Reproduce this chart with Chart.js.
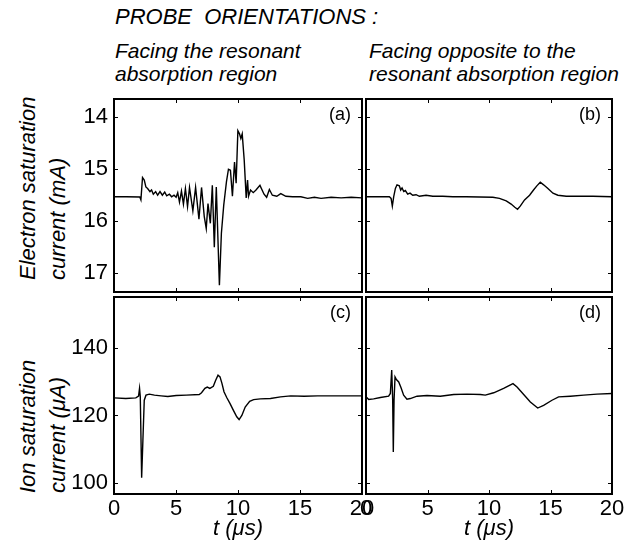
<!DOCTYPE html>
<html>
<head>
<meta charset="utf-8">
<script src="https://cdn.jsdelivr.net/npm/chart.js@4.4.0/dist/chart.umd.min.js"></script>
<style>
  body { margin: 0; background: #fff; }
  #wrap { position: relative; width: 631px; height: 542px; overflow: hidden;
          font-family: "Liberation Sans", Arial, sans-serif; color: #000; }
  canvas { position: absolute; }
  .txt { position: absolute; font-style: italic; white-space: pre; }
  .ylab { position: absolute; font-style: italic; white-space: pre; font-size: 22px;
          line-height: 30px; transform-origin: 0 0; transform: rotate(-90deg); }
</style>
</head>
<body>
<div id="wrap">
  <div class="txt" style="left:115px;top:6px;font-size:22px;line-height:22px;">PROBE  ORIENTATIONS :</div>
  <div class="txt" style="left:115px;top:39px;font-size:21px;line-height:23px;">Facing the resonant
absorption region</div>
  <div class="txt" style="left:369px;top:39px;font-size:21px;line-height:23px;">Facing opposite to the
resonant absorption region</div>
  <div class="ylab" style="left:13px;top:280px;">Electron saturation
current (mA)</div>
  <div class="ylab" style="left:13px;top:493px;">Ion saturation
current (μA)</div>
</div>
<script>
// time axis (µs)
const tTicks = [0, 5, 10, 15, 20];
const elecTicks = [14, 15, 16, 17];
const ionTicks = [100, 120, 140];

// (a) electron saturation current, facing the resonant absorption region
const tA = [0, 1.0, 2.08, 2.17, 2.30, 2.44, 2.57, 2.71, 2.90, 3.03, 3.17, 3.36, 3.52, 3.71, 3.90, 4.09,
  4.25, 4.47, 4.65, 4.84, 5.01, 5.14, 5.28, 5.44, 5.60, 5.76, 5.93, 6.09, 6.36, 6.58, 6.85, 7.06,
  7.28, 7.44, 7.58, 7.77, 7.93, 8.09, 8.25, 8.50, 8.66, 8.85, 9.07, 9.23, 9.39, 9.55, 9.72, 9.85,
  9.99, 10.12, 10.23, 10.34, 10.50, 10.66, 10.77, 10.85, 11.01, 11.23, 11.45, 11.77, 12.10, 12.31,
  12.53, 12.77, 13.13, 13.45, 13.86, 14.40, 15.07, 15.62, 16.16, 16.70, 17.51, 18.32, 19.13, 20.0];
const eA = [15.54, 15.54, 15.545, 15.60, 15.17, 15.22, 15.35, 15.38, 15.44, 15.41, 15.49, 15.44, 15.51, 15.44, 15.51, 15.45,
  15.52, 15.49, 15.54, 15.51, 15.55, 15.46, 15.64, 15.43, 15.68, 15.38, 15.73, 15.36, 15.81, 15.36, 15.97, 15.36,
  15.92, 16.15, 15.67, 16.05, 15.32, 16.51, 15.35, 17.24, 16.24, 15.70, 15.25, 15.01, 15.03, 15.53, 14.87, 15.28,
  14.27, 14.33, 14.42, 14.33, 14.83, 15.56, 15.22, 15.53, 15.41, 15.46, 15.41, 15.32, 15.49, 15.55,
  15.40, 15.51, 15.53, 15.48, 15.53, 15.54, 15.54, 15.57, 15.55, 15.57, 15.55, 15.56, 15.55, 15.56];

// (b) electron saturation current, facing opposite
const tB = [0, 1.90, 2.04, 2.14, 2.25, 2.39, 2.52, 2.71, 2.82, 2.93, 3.07, 3.20, 3.39, 3.58, 3.80, 4.07,
  4.34, 4.88, 5.43, 6.24, 7.06, 8.14, 9.23, 10.31, 10.85, 11.40, 11.80, 12.10, 12.32, 12.54, 12.89,
  13.30, 13.62, 13.89, 14.17, 14.44, 14.79, 15.20, 15.60, 16.28, 17.37, 18.45, 20.0];
const eB = [15.54, 15.54, 15.57, 15.72, 15.54, 15.38, 15.31, 15.33, 15.41, 15.37, 15.44, 15.42, 15.49, 15.47, 15.51, 15.50,
  15.53, 15.51, 15.53, 15.53, 15.54, 15.54, 15.545, 15.55, 15.57, 15.62, 15.68, 15.74, 15.78, 15.72, 15.60,
  15.51, 15.41, 15.33, 15.26, 15.31, 15.38, 15.47, 15.51, 15.53, 15.53, 15.53, 15.54];

// (c) ion saturation current, facing the resonant absorption region
const tC = [0, 0.95, 1.76, 1.98, 2.06, 2.12, 2.23, 2.33, 2.44, 2.58, 2.85, 3.26, 3.80, 4.34, 5.02, 5.83,
  6.87, 7.06, 7.33, 7.52, 7.73, 8.01, 8.20, 8.39, 8.55, 8.71, 8.87, 9.09, 9.36, 9.63, 9.90, 10.09,
  10.31, 10.58, 10.94, 11.26, 11.80, 12.62, 13.43, 14.25, 15.33, 16.42, 17.77, 18.86, 20.0];
const iC = [125.2, 125.0, 125.2, 125.7, 128.0, 125.5, 101.6, 112.6, 124.5, 126.0, 126.3, 126.0, 125.8, 125.6, 125.9, 126.0,
  126.2, 126.7, 128.0, 128.4, 128.0, 128.6, 130.4, 131.9, 131.4, 129.4, 127.0, 125.3, 123.5, 121.5, 119.6, 118.8,
  120.0, 122.5, 124.2, 124.7, 124.9, 125.0, 125.5, 125.8, 125.7, 125.8, 125.8, 125.8, 125.8];

// (d) ion saturation current, facing opposite
const tD = [0, 0.22, 0.62, 1.17, 1.84, 1.98, 2.09, 2.17, 2.22, 2.28, 2.36, 2.47, 2.66, 2.85, 3.06, 3.33,
  3.60, 4.15, 4.96, 6.04, 7.13, 8.21, 9.30, 9.70, 10.38, 11.19, 11.95, 12.28, 12.82, 13.36, 13.96,
  14.44, 15.12, 15.66, 16.61, 17.70, 18.78, 20.0];
const iD = [125.5, 124.7, 124.9, 125.3, 125.7, 126.5, 133.4, 124.5, 109.2, 124.5, 131.4, 130.6, 129.9, 128.2, 126.0, 124.8,
  125.0, 125.7, 125.9, 125.7, 126.2, 126.3, 126.2, 126.0, 126.7, 128.0, 129.4, 128.4, 126.2, 124.0, 122.2,
  123.0, 124.5, 125.5, 125.7, 126.0, 126.3, 126.5];

const FONT = '"Liberation Sans", Arial, sans-serif';
const Y_W = 50;     // width of the left tick-label column
const X_H = 48;     // height of the bottom tick-label + title band

// p.box = canvas rect on the page, p.L/R/T/B = frame edges on the page
function makePanel(ts, vs, p) {
  const [cx, cy, cw, ch] = p.box;
  const cv = document.createElement('canvas');
  cv.width = cw; cv.height = ch;
  cv.style.left = cx + 'px'; cv.style.top = cy + 'px';
  document.getElementById('wrap').appendChild(cv);

  const pts = ts.map((t, i) => ({ x: t, y: vs[i] }));

  // frame with inward ticks on all four sides, plus the panel letter
  const frame = {
    id: 'frame',
    afterDraw(chart) {
      const ctx = chart.ctx;
      const a = chart.chartArea;
      const x = chart.scales.x, y = chart.scales.y;
      const l = Math.round(a.left), r = Math.round(a.right);
      const t = Math.round(a.top), b = Math.round(a.bottom);
      ctx.save();
      ctx.fillStyle = '#000';
      tTicks.forEach(v => {
        const px = Math.round(x.getPixelForValue(v));
        ctx.fillRect(px, b - 4, 1, 4);
        ctx.fillRect(px, t, 1, 4);
      });
      p.yTicks.forEach(v => {
        const py = Math.round(y.getPixelForValue(v));
        ctx.fillRect(l, py, 4, 1);
        ctx.fillRect(r - 4, py, 4, 1);
      });
      ctx.fillRect(l - 1, t - 1, r - l + 2, 2);
      ctx.fillRect(l - 1, b - 1, r - l + 2, 2);
      ctx.fillRect(l - 1, t - 1, 2, b - t + 2);
      ctx.fillRect(r - 1, t - 1, 2, b - t + 2);
      ctx.font = '18px ' + FONT;
      ctx.textAlign = 'right';
      ctx.textBaseline = 'middle';
      ctx.fillText(p.label, r - 11, t + 16);
      ctx.restore();
    }
  };

  return new Chart(cv, {
    type: 'line',
    data: {
      datasets: [{
        data: pts,
        borderColor: '#000',
        borderWidth: 1.4,
        pointRadius: 0,
        tension: 0,
        fill: false
      }]
    },
    options: {
      responsive: false,
      animation: false,
      events: [],
      layout: {
        padding: {
          left: p.L - cx - (p.showY ? Y_W : 0),
          right: cx + cw - p.R,
          top: p.T - cy,
          bottom: cy + ch - p.B - (p.showX ? X_H : 0)
        }
      },
      plugins: {
        legend: { display: false },
        tooltip: { enabled: false }
      },
      scales: {
        x: {
          type: 'linear', min: 0, max: 20,
          display: p.showX,
          afterBuildTicks: s => { s.ticks = tTicks.map(v => ({ value: v })); },
          afterFit: s => {
            s.height = p.showX ? X_H : 0;
            s.paddingLeft = 0; s.paddingRight = 0;
          },
          grid: { display: false, drawTicks: false },
          border: { display: false },
          ticks: { color: '#000', padding: 2, maxRotation: 0, autoSkip: false,
                   font: { family: FONT, size: 22 } },
          title: { display: true, text: 't (μs)', color: '#000', padding: 0,
                   font: { family: FONT, size: 22, style: 'italic' } }
        },
        y: {
          type: 'linear', min: p.min, max: p.max, reverse: p.reverse,
          display: p.showY,
          afterBuildTicks: s => { s.ticks = p.yTicks.map(v => ({ value: v })); },
          afterFit: s => {
            s.width = p.showY ? Y_W : 0;
            s.paddingTop = 0; s.paddingBottom = 0;
          },
          grid: { display: false, drawTicks: false },
          border: { display: false },
          ticks: { color: '#000', padding: 6, autoSkip: false,
                   font: { family: FONT, size: 22 } }
        }
      }
    },
    plugins: [frame]
  });
}

makePanel(tA, eA, { box: [60, 92, 310, 203], L: 114, R: 362, T: 99, B: 292,
  min: 13.66, max: 17.37, reverse: true, yTicks: elecTicks, showX: false, showY: true, label: '(a)' });
makePanel(tB, eB, { box: [356, 92, 275, 203], L: 366, R: 612, T: 99, B: 292,
  min: 13.66, max: 17.37, reverse: true, yTicks: elecTicks, showX: false, showY: false, label: '(b)' });
makePanel(tC, iC, { box: [60, 295, 320, 247], L: 114, R: 362, T: 297, B: 494,
  min: 96.8, max: 155.0, yTicks: ionTicks, showX: true, showY: true, label: '(c)' });
makePanel(tD, iD, { box: [350, 295, 281, 247], L: 366, R: 612, T: 297, B: 494,
  min: 96.8, max: 155.0, yTicks: ionTicks, showX: true, showY: false, label: '(d)' });
</script>
</body>
</html>
